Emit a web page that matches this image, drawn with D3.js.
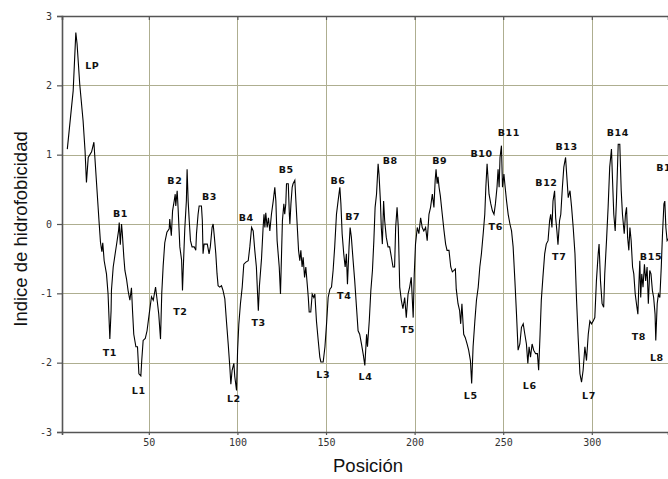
<!DOCTYPE html>
<html>
<head>
<meta charset="utf-8">
<script src="https://cdn.jsdelivr.net/npm/d3@7/dist/d3.min.js"></script>
<style>
  body { margin: 0; background: #fff; }
  .tick text { font-family: "DejaVu Sans Mono", monospace; font-size: 10px; fill: #333; }
  .etiqueta { font-family: "DejaVu Sans", sans-serif; font-size: 9.5px; font-weight: bold; fill: #111; letter-spacing: 0.6px; }
  .titulo { font-family: "Liberation Sans", Arial, sans-serif; font-size: 18.5px; fill: #111; }
</style>
</head>
<body>
<svg id="chart" width="668" height="479"></svg>
<script>
// posición (residuo) y valor de hidrofobicidad
var posicion = [
  4, 7.3, 8.8, 9.5, 11, 12.9, 14, 14.8, 15.8, 17.7, 19, 19.5, 22, 22.7, 23.5, 24, 24.8, 26.1, 27, 28,
  28.7, 28.9, 29.9, 31.4, 32, 32.9, 33.3, 33.9, 34.6, 35, 35.9, 36.5, 37.4, 38.3, 39.3, 40.2, 40.8, 41.5, 42.7, 43.6,
  44.4, 45.5, 46, 46.8, 48, 49, 50.2, 51.5, 52.5, 53.8, 54.7, 55.6, 56.6, 57.3, 58.1, 59, 60.2, 61.5, 61.8, 62.7,
  63.4, 64.3, 64.9, 65.2, 66, 66.5, 67.5, 68.5, 69, 69.4, 70.3, 71.2, 71.6, 72.2, 72.8, 73.5, 74.4, 75.6, 76.5, 76.9,
  77.8, 78.4, 79.7, 80.2, 80.6, 81.2, 82.1, 83, 84, 84.7, 85.7, 86.3, 87, 87.8, 88.5, 89.1, 90, 91, 91.9, 92.9,
  93.8, 94.8, 95.7, 96.3, 97, 98, 98.5, 99.5, 100.1, 100.8, 101.7, 102.7, 103.6, 104.8, 106.1, 107, 108, 108.9, 109.8, 110.7,
  111.8, 112.4, 113.6, 114.5, 115, 115.5, 116, 116.8, 117.5, 118.3, 119.2, 120.2, 121.1, 121.7, 122.4, 123.6, 124.3, 124.9, 125.4, 126.2,
  126.7, 127.3, 127.7, 128.7, 129.3, 129.6, 130.2, 130.9, 131.4, 132.4, 133, 133.7, 134.5, 135.2, 135.8, 136.5, 137.1, 137.9, 138.6, 139.4,
  140, 140.5, 141.4, 142.2, 143.1, 143.7, 144.6, 145.6, 146.5, 147.1, 148.4, 149.4, 150.3, 151.2, 152.2, 153.1, 154, 154.9, 155.9, 156.8,
  157.8, 158.4, 159.1, 160, 160.8, 161.5, 162.1, 163, 163.6, 164.3, 165.3, 166.2, 167.2, 168.1, 169, 170, 171, 171.9, 172.5, 172.9,
  173.4, 174.4, 175.3, 176.2, 177, 177.7, 178.5, 179.4, 179.9, 180.7, 181.2, 181.8, 182.5, 183.1, 184, 185, 185.9, 186.9, 187.8, 188.7,
  189.3, 190.1, 190.8, 191.6, 192.5, 193.4, 194.4, 195.3, 196.3, 197.2, 198.1, 199.2, 199.8, 200.5, 201.5, 202.4, 203.4, 204.3, 205.2, 206.2,
  207.1, 208.1, 209, 210, 210.9, 211.6, 212.1, 212.7, 213.2, 213.8, 214.5, 215.6, 216.6, 217.5, 218.3, 219.4, 220.4, 221.3, 222.2, 223,
  223.5, 224.5, 225.4, 226, 226.7, 227.7, 228.6, 229.6, 230.5, 231.5, 232.2, 233, 234, 234.9, 235.9, 236.8, 237.7, 238.7, 239.6, 240.2,
  240.9, 241.5, 242, 243, 243.9, 244.8, 245.6, 246.5, 247.1, 247.7, 248.2, 249, 249.6, 250.4, 251.1, 251.9, 252.8, 253.8, 254.7, 255.6,
  256.6, 257.5, 258.4, 259.4, 260.3, 261.3, 262.2, 263.1, 263.9, 264.6, 265.4, 266.3, 267.2, 268.3, 269.3, 270, 270.8, 271.5, 272.4, 273.4,
  274.3, 275.3, 276.2, 276.8, 277.5, 278.1, 279, 279.6, 280.3, 280.9, 281.8, 282.5, 283.4, 284.2, 285.2, 285.8, 286.7, 287.7, 288.6, 289.5,
  290.5, 291.4, 292.3, 293.3, 294.2, 295.1, 296.1, 297, 298, 298.9, 299.8, 300.8, 301.7, 302.6, 303.6, 304.1, 304.9, 305.8, 306.7, 307.3,
  308.3, 309.2, 310.1, 311.1, 311.7, 312.4, 313.2, 313.9, 314.9, 315.8, 316.6, 317.3, 318.3, 319, 319.6, 320.2, 320.9, 321.5, 322.2, 323,
  323.7, 324.5, 325.2, 326, 326.5, 327.1, 327.6, 328.2, 328.9, 329.7, 330.4, 331.2, 331.9, 332.7, 333.4, 334.2, 334.9, 335.7, 336.1, 336.9,
  337.6, 338.4, 339.2, 339.9, 340.7, 341.2, 341.8, 342.5, 343.5
];

var hidrofobicidad = [
  1.08, 1.92, 2.76, 2.6, 2.02, 1.49, 1.06, 0.6, 0.96, 1.04, 1.18, 0.98, 0, -0.26, -0.4, -0.27, -0.53, -0.72, -1.01, -1.66,
  -1.25, -0.96, -0.62, -0.36, -0.26, -0.1, 0.02, -0.3, 0, -0.12, -0.48, -0.67, -0.79, -0.96, -1.1, -0.92, -1.25, -1.59, -1.77, -1.77,
  -2.16, -2.19, -1.97, -1.68, -1.65, -1.54, -1.3, -1.05, -1.1, -0.91, -1.1, -1.3, -1.66, -1.0, -0.6, -0.27, -0.12, -0.07, 0.07, -0.17,
  0.19, 0.33, 0.43, 0.26, 0.48, 0.24, -0.33, -0.52, -0.96, -0.67, -0.07, 0.34, 0.79, 0.33, 0.05, -0.24, -0.33, -0.33, -0.38, -0.14,
  0.14, 0.26, 0.26, 0.05, -0.43, -0.29, -0.29, -0.29, -0.43, -0.33, -0.05, 0, -0.19, -0.43, -0.72, -0.89, -0.91, -0.89, -0.96, -1.08,
  -1.4, -1.73, -2.06, -2.31, -2.11, -2.01, -2.2, -2.4, -1.82, -1.44, -1.15, -0.91, -0.58, -0.55, -0.53, -0.33, -0.05, -0.1, -0.38, -0.62,
  -1.25, -0.9, -0.5, -0.05, 0.14, -0.05, 0.16, -0.05, 0.09, -0.1, 0.14, 0.33, 0.53, 0.33, -0.24, -0.62, -1.01, -0.43, 0.05, 0.29,
  0.14, 0.29, 0.58, 0.58, 0.14, 0, 0.29, 0.53, 0.58, 0.63, 0.33, 0, -0.38, -0.53, -0.38, -0.62, -0.48, -0.77, -0.62, -0.87,
  -1.06, -1.27, -1.27, -1.01, -1.06, -1.01, -1.4, -1.68, -1.92, -1.99, -1.99, -1.77, -1.44, -1.06, -0.94, -0.91, -0.67, -0.33, 0.14, 0.33,
  0.53, 0.29, -0.14, -0.43, -0.62, -0.43, -0.87, -0.33, -0.05, -0.19, -0.53, -0.82, -1.2, -1.54, -1.59, -1.73, -1.88, -2.04, -1.77, -1.59,
  -1.77, -1.4, -0.96, -0.67, -0.24, 0.24, 0.43, 0.87, 0.72, 0.33, -0.05, -0.29, 0.33, 0.05, -0.19, -0.33, -0.33, -0.48, -0.62, -0.62,
  -0.05, 0.24, -0.05, -0.91, -1.1, -1.22, -1.06, -1.35, -1.01, -0.91, -0.77, -1.35, -0.72, -0.29, -0.05, -0.14, 0.09, -0.05, -0.1, -0.05,
  -0.24, 0.14, 0.24, 0.43, 0.24, 0.63, 0.79, 0.58, 0.68, 0.53, 0.41, 0.14, -0.1, -0.29, -0.38, -0.38, -0.62, -0.69, -0.67, -0.65,
  -0.94, -1.15, -1.25, -1.44, -1.15, -1.59, -1.64, -1.73, -1.82, -1.97, -2.3, -1.77, -1.4, -1.1, -0.91, -0.62, -0.43, -0.14, 0.14, 0.53,
  0.87, 0.63, 0.43, 0.29, 0.19, 0.14, 0.29, 0.53, 0.79, 0.53, 0.96, 1.13, 0.53, 0.72, 0.53, 0.33, 0.14, 0, -0.1, -0.33,
  -0.82, -1.3, -1.82, -1.73, -1.49, -1.44, -1.59, -1.73, -2.01, -1.77, -1.92, -1.73, -1.82, -1.87, -1.87, -2.11, -1.59, -1.1, -0.77, -0.43,
  -0.29, -0.24, 0.05, 0.14, -0.05, 0.33, 0.48, 0.09, -0.1, -0.3, 0.05, 0.14, 0.53, 0.82, 0.96, 0.72, 0.38, 0.48, 0.24, -0.05,
  -0.43, -1.1, -1.64, -2.16, -2.28, -2.11, -1.77, -1.97, -1.59, -1.4, -1.44, -1.4, -1.35, -0.82, -0.43, -0.29, -0.82, -1.15, -1.2, -0.72,
  -0.24, 0.24, 0.82, 1.08, 0.63, 0.14, -0.1, 0.33, 1.15, 1.15, 0.48, 0.14, -0.14, 0.14, 0.24, -0.19, -0.38, -0.05, -0.24, -0.62,
  -0.72, -1.01, -1.15, -1.3, -0.91, -0.53, -1.06, -0.72, -0.91, -0.58, -0.82, -0.62, -1.15, -0.67, -0.72, -0.96, -1.06, -1.3, -1.68, -1.15,
  -1.01, -1.06, -0.62, -0.14, 0.29, 0.33, -0.05, -0.24, -0.2
];

// etiquetas de regiones: nombre, posición y valor donde va el texto
var etiquetas = ["LP", "B1", "T1", "L1", "B2", "T2", "B3", "L2", "B4", "T3", "B5", "L3", "B6", "B7", "T4", "L4",
  "B8", "T5", "B9", "L5", "B10", "T6", "B11", "L6", "B12", "T7", "B13", "L7", "B14", "T8", "B15", "L8"];
var etiquetasX = [18.1, 34, 28, 44.3, 64.7, 67.8, 84.2, 98, 105, 112, 127.6, 148.4, 156.8, 165.1, 160.3, 172.3,
  186.2, 196.2, 214.2, 231.7, 237.8, 245.8, 253.2, 265, 274.4, 281.6, 285.8, 298.4, 314.7, 326.6, 333.4, 336.7];
var etiquetasY = [2.24, 0.1, -1.9, -2.45, 0.58, -1.31, 0.35, -2.57, 0.04, -1.47, 0.74, -2.22, 0.58, 0.06, -1.08, -2.25,
  0.87, -1.57, 0.87, -2.52, 0.97, -0.09, 1.27, -2.38, 0.55, -0.52, 1.07, -2.52, 1.27, -1.67, -0.52, -1.98];

var xTicks = [50, 100, 150, 200, 250, 300];
var yTicks = [-3, -2, -1, 0, 1, 2, 3];

var svg = d3.select("#chart");
var margin = { top: 16, left: 62, bottom: 47 };
var width = 668 - margin.left;
var height = 479 - margin.top - margin.bottom;

var x = d3.scaleLinear().domain([1, 343]).range([0, width]);
var y = d3.scaleLinear().domain([-3, 3]).range([height, 0]);

var g = svg.append("g").attr("transform", "translate(" + margin.left + "," + margin.top + ")");

// rejilla
g.append("g").selectAll("line").data(xTicks).enter().append("line")
  .attr("x1", function (d) { return Math.round(x(d)) + 0.5; })
  .attr("x2", function (d) { return Math.round(x(d)) + 0.5; })
  .attr("y1", 0).attr("y2", height)
  .attr("stroke", "#aeae90").attr("stroke-width", 1);

g.append("g").selectAll("line").data(yTicks.slice(1, -1)).enter().append("line")
  .attr("x1", 0).attr("x2", width)
  .attr("y1", function (d) { return Math.round(y(d)) + 0.5; })
  .attr("y2", function (d) { return Math.round(y(d)) + 0.5; })
  .attr("stroke", "#aeae90").attr("stroke-width", 1);

// ejes
var ejeY = g.append("g")
  .call(d3.axisLeft(y).tickValues(yTicks).tickSize(5).tickPadding(5).tickFormat(function (d) { return String(d); }));
var ejeX = g.append("g").attr("transform", "translate(0," + height + ")")
  .call(d3.axisBottom(x).tickValues(xTicks).tickSize(3).tickPadding(6).tickFormat(d3.format("d")));
var ejeTop = g.append("g")
  .call(d3.axisTop(x).tickValues(xTicks).tickSize(-4).tickFormat(""));

[ejeY, ejeX, ejeTop].forEach(function (e) {
  e.select(".domain").attr("stroke", "#555").attr("stroke-width", 1.6);
  e.selectAll(".tick line").attr("stroke", "#555").attr("stroke-width", 1.2);
});
ejeX.selectAll(".tick text").attr("dy", "0.5em");

// curva
g.append("clipPath").attr("id", "area").append("rect").attr("width", width).attr("height", height);

var linea = d3.line()
  .x(function (d, i) { return x(posicion[i]); })
  .y(function (d) { return y(d); });

g.append("path")
  .datum(hidrofobicidad)
  .attr("clip-path", "url(#area)")
  .attr("d", linea)
  .attr("fill", "none")
  .attr("stroke", "#000")
  .attr("stroke-width", 1.1);

// etiquetas
g.append("g").selectAll("text").data(etiquetas).enter().append("text")
  .attr("class", "etiqueta")
  .attr("text-anchor", "middle")
  .attr("x", function (d, i) { return x(etiquetasX[i]); })
  .attr("y", function (d, i) { return y(etiquetasY[i]); })
  .text(function (d) { return d; });

// B16 queda cortada en el borde derecho, igual que en el original
g.append("text").attr("class", "etiqueta")
  .attr("x", x(336.3)).attr("y", y(0.76)).text("B16");

// títulos
svg.append("text").attr("class", "titulo")
  .attr("text-anchor", "middle")
  .attr("x", 368).attr("y", 472)
  .text("Posición");

svg.append("text").attr("class", "titulo")
  .attr("text-anchor", "middle")
  .attr("transform", "translate(27,229) rotate(-90)")
  .text("Indice de hidrofobicidad");
</script>
</body>
</html>
